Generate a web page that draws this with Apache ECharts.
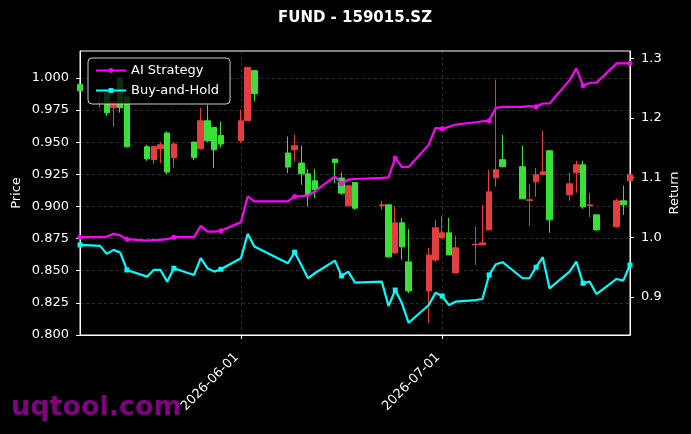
<!DOCTYPE html>
<html><head><meta charset="utf-8">
<script src="https://cdn.jsdelivr.net/npm/echarts@6/dist/echarts.min.js"></script>
<style>html,body{margin:0;padding:0;background:#000}#c{width:691px;height:434px}</style>
</head><body><div id="c"></div>
<script>
// ---------- data ----------
const dates = [
  '2026-05-08',
  '2026-05-11','2026-05-12','2026-05-13','2026-05-14','2026-05-15',
  '2026-05-18','2026-05-19','2026-05-20','2026-05-21','2026-05-22',
  '2026-05-25','2026-05-26','2026-05-27','2026-05-28','2026-05-29',
  '2026-06-01','2026-06-02','2026-06-03',
  '2026-06-08','2026-06-09','2026-06-10','2026-06-11','2026-06-12',
  '2026-06-15','2026-06-16','2026-06-17','2026-06-18',
  '2026-06-22','2026-06-23','2026-06-24','2026-06-25','2026-06-26',
  '2026-06-29','2026-06-30','2026-07-01','2026-07-02','2026-07-03',
  '2026-07-06','2026-07-07','2026-07-08','2026-07-09','2026-07-10',
  '2026-07-13','2026-07-14','2026-07-15','2026-07-16','2026-07-17',
  '2026-07-20','2026-07-21','2026-07-22','2026-07-23','2026-07-24',
  '2026-07-27','2026-07-28','2026-07-29'
];
const opens = [
  0.995,
  0.980,0.9885,0.9769,1.000,0.9854,
  0.9465,0.9364,0.9449,0.9572,0.9381,
  0.9501,0.9449,0.9667,0.9615,0.9553,
  0.9512,0.9667,1.0057,
  0.9416,0.9441,0.9338,0.9254,0.9200,
  0.9369,0.9221,0.9005,0.9187,
  0.9006,0.9013,0.8639,0.8873,0.8569,
  0.8343,0.8584,0.8756,0.8795,0.8483,
  0.8701,0.8701,0.8818,0.9223,0.9364,
  0.9309,0.9047,0.9192,0.9247,0.9434,
  0.9091,0.9262,0.9325,0.9005,0.8935,
  0.8842,0.9044,0.9200
];
const closes = [
  0.990,
  0.981,0.9730,0.9815,0.9769,0.9465,
  0.9371,0.9467,0.9480,0.9268,0.9486,
  0.9381,0.9667,0.9511,0.9441,0.9486,
  0.9667,1.0083,0.9878,
  0.9307,0.9473,0.9254,0.9091,0.9130,
  0.9342,0.9104,0.9161,0.8987,
  0.9013,0.8608,0.8873,0.8686,0.8343,
  0.8623,0.8834,0.8795,0.8623,0.8678,
  0.8706,0.8717,0.9114,0.9286,0.9309,
  0.9060,0.9053,0.9247,0.9270,0.8896,
  0.9177,0.9325,0.8998,0.9013,0.8818,
  0.9044,0.9013,0.9247
];
const lows = [
  0.988,
  0.977,0.9706,0.962,0.973,0.9457,
  0.9356,0.9332,0.9338,0.9252,0.9304,
  0.9362,0.9441,0.9501,0.9299,0.9459,
  0.9496,0.9665,0.9818,
  0.9260,0.9350,0.9169,0.9000,0.9065,
  0.9182,0.9091,0.9000,0.8974,
  0.8974,0.8600,0.8631,0.8585,0.8327,
  0.8093,0.8569,0.8756,0.8623,0.8483,
  0.8545,0.8701,0.8818,0.9153,0.9309,
  0.9060,0.8849,0.9075,0.9247,0.8795,
  0.9044,0.9107,0.8982,0.8919,0.8810,
  0.8834,0.8935,0.919
];
const highs = [
  0.998,
  0.988,0.990,0.983,1.001,0.986,
  0.948,0.9467,0.9501,0.9584,0.9501,
  0.9505,0.9766,0.9792,0.9620,0.9662,
  0.9753,1.0086,1.006,
  0.9545,0.9558,0.9473,0.9291,0.9291,
  0.9369,0.9265,0.9169,0.9190,
  0.9044,0.9015,0.8998,0.8912,0.8826,
  0.8678,0.8896,0.8927,0.8912,0.8771,
  0.8842,0.9013,0.9286,0.9987,0.9558,
  0.9473,0.9177,0.9301,0.9589,0.9434,
  0.9262,0.9356,0.9356,0.9107,0.8935,
  0.9060,0.9161,0.926
];
const aiStrategy = [
  1.000,
  1.000,1.001,1.0055,1.003,0.9966,
  0.9943,0.995,0.9955,0.9966,1.000,
  1.000,1.019,1.0094,1.0094,1.0106,
  1.0252,1.0682,1.0598,
  1.0598,1.0682,1.0687,1.0699,1.0766,
  1.1018,1.0896,1.0963,1.0975,
  1.0992,1.1002,1.1328,1.1176,1.1176,
  1.1551,1.1832,1.1815,1.1849,1.1887,
  1.1926,1.1943,1.1950,1.2168,1.2185,
  1.2185,1.2195,1.2185,1.2240,1.2240,
  1.2632,1.2829,1.2543,1.2588,1.2588,
  1.2913,1.2913,1.2913
];
const buyHold = [
  0.987,
  0.9854,0.9719,0.9787,0.9741,0.9450,
  0.9338,0.9450,0.9450,0.9254,0.9479,
  0.9366,0.9647,0.9479,0.9422,0.9462,
  0.9647,1.0055,0.9842,
  0.9563,0.9748,0.9534,0.9311,0.9395,
  0.9607,0.9350,0.9422,0.9237,
  0.9254,0.8845,0.9114,0.8891,0.8565,
  0.8862,0.9069,0.9013,0.8862,0.8918,
  0.8946,0.8963,0.9366,0.9546,0.9580,
  0.9311,0.9311,0.9496,0.9664,0.9143,
  0.9422,0.9590,0.9227,0.9254,0.9047,
  0.9299,0.9271,0.9534
];
const xTickLabels = ['2026-06-01','2026-07-01'];
const priceTicks = [0.800,0.825,0.850,0.875,0.900,0.925,0.950,0.975,1.000];
const returnTicks = [0.9,1.0,1.1,1.2,1.3];
const titleText = 'FUND - 159015.SZ';
const seriesNames = ['AI Strategy','Buy-and-Hold'];

// ---------- chart ----------
const t = s => { const p = s.split('-').map(Number); return Date.UTC(p[0], p[1]-1, p[2]); };
const FONT = '"DejaVu Sans", sans-serif';
const GRID = 'rgba(128,128,128,0.45)';
const RED = '#e53e3e', GREEN = '#38e038';
const chart = echarts.init(document.getElementById('c'), null, {renderer:'canvas'});
const xTickVals = xTickLabels.map(t);
const markEvery = (v, p) => (p.dataIndex % 5 === 0 ? 5 : 0);

chart.setOption({
  backgroundColor: '#000',
  animation: false,
  textStyle: {fontFamily: FONT},
  grid: {left: 80, right: 61, top: 51, bottom: 99, show: true, borderColor: '#fff', borderWidth: 1, backgroundColor: 'transparent'},
  legend: {
    data: seriesNames, orient: 'vertical', left: 88, top: 58,
    backgroundColor: 'rgba(0,0,0,0.8)', borderColor: '#cccccc', borderWidth: 1, borderRadius: 4,
    padding: [5, 11, 6, 7], itemWidth: 30, itemHeight: 6, itemGap: 5,
    textStyle: {color: '#fff', fontSize: 13, fontFamily: FONT, lineHeight: 15}
  },
  xAxis: {
    type: 'value', min: t(dates[0]), max: t(dates[dates.length-1]), scale: true,
    axisLine: {show: true, lineStyle: {color: '#fff'}},
    axisTick: {show: true, customValues: xTickVals, length: 4, lineStyle: {color: '#fff'}},
    axisLabel: {customValues: xTickVals, rotate: 45, color: '#fff', fontSize: 13, fontFamily: FONT, margin: 16, padding: [0, 6, 0, 0],
      formatter: v => { const i = xTickVals.indexOf(v); return i >= 0 ? xTickLabels[i] : ''; }},
    splitLine: {show: true, lineStyle: {color: GRID, type: [3, 3], width: 0.8}}
  },
  yAxis: [{
    type: 'value', position: 'left', min: 0.8, max: 1.021,
    name: 'Price', nameLocation: 'middle', nameGap: 57, nameRotate: 90, nameMoveOverlap: false,
    nameTextStyle: {color: '#fff', fontSize: 13, fontFamily: FONT},
    axisLine: {show: true, lineStyle: {color: '#fff'}},
    axisTick: {show: true, customValues: priceTicks, length: 4, lineStyle: {color: '#fff'}},
    axisLabel: {customValues: priceTicks, color: '#fff', fontSize: 13, fontFamily: FONT, margin: 11, formatter: v => v.toFixed(3)},
    splitLine: {show: true, lineStyle: {color: GRID, type: [3, 3], width: 0.8}}
  }, {
    type: 'value', position: 'right', min: 0.836, max: 1.312,
    name: 'Return', nameLocation: 'middle', nameGap: 38, nameRotate: 90, nameMoveOverlap: false,
    nameTextStyle: {color: '#fff', fontSize: 13, fontFamily: FONT},
    axisLine: {show: true, lineStyle: {color: '#fff'}},
    axisTick: {show: true, customValues: returnTicks, length: 4, lineStyle: {color: '#fff'}},
    axisLabel: {customValues: returnTicks, color: '#fff', fontSize: 13, fontFamily: FONT, margin: 11, formatter: v => v.toFixed(1)},
    splitLine: {show: false}
  }],
  graphic: [
    {type: 'text', x: 355, y: 18, style: {text: titleText, fill: '#fff', font: 'bold 15px "DejaVu Sans"', align: 'center', verticalAlign: 'middle'}},
    {type: 'text', x: 11, y: 408, style: {text: 'uqtool.com', fill: '#800080', font: 'bold 27px "DejaVu Sans"', align: 'left', verticalAlign: 'middle'}}
  ],
  series: [{
    type: 'candlestick', name: 'Price', xAxisIndex: 0, yAxisIndex: 0,
    data: dates.map((d, i) => [t(d), opens[i], closes[i], lows[i], highs[i]]),
    encode: {x: 0, y: [1, 2, 3, 4]},
    barWidth: 6,
    itemStyle: {color: RED, color0: GREEN, borderColor: RED, borderColor0: GREEN, borderWidth: 1}
  }, {
    type: 'line', name: seriesNames[0], yAxisIndex: 1,
    data: dates.map((d, i) => [t(d), aiStrategy[i]]),
    symbol: 'circle', symbolSize: markEvery, showSymbol: true,
    lineStyle: {color: '#ff00ff', width: 2.2}, itemStyle: {color: '#ff00ff'}
  }, {
    type: 'line', name: seriesNames[1], yAxisIndex: 1,
    data: dates.map((d, i) => [t(d), buyHold[i]]),
    symbol: 'rect', symbolSize: markEvery, showSymbol: true,
    lineStyle: {color: '#00ffff', width: 2.2}, itemStyle: {color: '#00ffff'}
  }]
});
</script></body></html>
